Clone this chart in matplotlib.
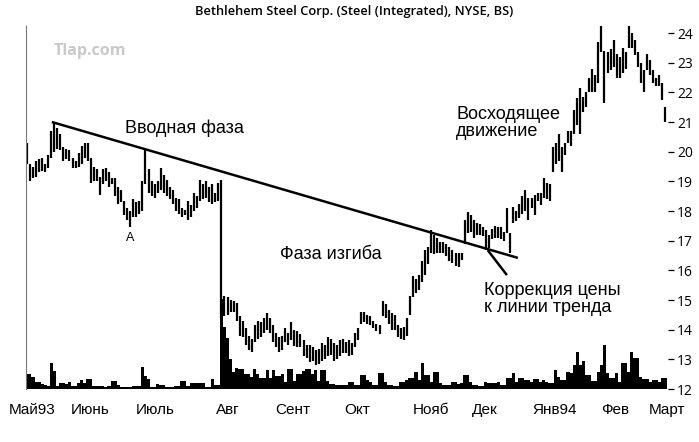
import numpy as np
import matplotlib
matplotlib.use("Agg")
import matplotlib.pyplot as plt

# daily high / low, May 1993 - early March 1994 (one entry per trading day)
highs = [20.3, 19.6, 19.5, 19.7, 19.75, 19.8, 19.6, 19.9, 20.7, 21.0,
         20.8, 20.6, 20.15, 20.1, 20.05, 19.8, 19.7, 19.95, 20.2, 20.3,
         20.3, 19.8, 19.5, 19.4, 19.15, 19.4, 19.45, 19.3, 19.1, 19.1,
         18.8, 18.7, 18.35, 18.1, 18.0, 18.4, 18.3, 18.35, 19.0, 20.05,
         19.4, 19.0, 18.9, 19.0, 19.45, 19.2, 19.05, 18.8, 18.7, 18.45,
         18.4, 18.1, 18.05, 18.35, 18.2, 18.6, 18.5, 19.05, 18.9, 19.0,
         18.8, 18.9, 18.6, 18.95, 19.05, 15.15, 15.1, 15.0, 14.95, 14.9,
         14.45, 14.3, 14.05, 13.8, 13.7, 14.15, 14.3, 14.25, 14.4, 14.55,
         14.4, 14.15, 13.9, 13.75, 13.8, 14.05, 13.9, 14.25, 14.0, 13.95,
         13.85, 13.65, 13.5, 13.5, 13.4, 13.3, 13.35, 13.55, 13.5, 13.75,
         13.7, 13.55, 13.5, 13.65, 13.7, 13.6, 13.65, 13.55, 13.9, 14.05,
         14.6, 14.6, 14.5, 14.45, 14.3, 14.2, 14.15, 14.95, 14.85, 14.65,
         14.55, 14.5, 14.15, 14.05, 14.1, 14.4, 15.15, 15.8, 15.7, 15.85,
         16.3, 16.7, 16.8, 17.35, 17.2, 17.1, 16.95, 16.95, 16.9, 16.8,
         16.7, 16.6, 16.6, 16.6, 17.7, 17.95, 17.85, 17.7, 17.6, 17.55,
         17.45, 17.35, 17.2, 17.4, 17.5, 17.45, 17.45, 17.3, 18.1, 17.25,
         18.15, 18.0, 18.25, 18.5, 18.7, 18.45, 18.45, 18.55, 18.6, 18.6,
         19.1, 18.95, 18.9, 20.15, 20.3, 20.6, 20.15, 20.3, 20.7, 20.7,
         21.4, 21.8, 22.15, 21.85, 22.0, 22.5, 22.8, 22.6, 23.7, 24.25,
         23.4, 23.35, 23.45, 23.75, 23.3, 23.2, 23.5, 23.35, 24.25, 24.0,
         23.75, 23.35, 23.0, 22.75, 23.3, 23.1, 22.75, 22.5, 22.6, 22.3,
         21.5]
lows = [19.6, 19.0, 19.1, 19.15, 19.3, 19.35, 19.3, 19.45, 19.8, 20.0,
        20.1, 20.05, 19.7, 19.75, 19.7, 19.45, 19.45, 19.5, 19.6, 19.8,
        19.7, 18.95, 19.0, 19.0, 18.55, 18.9, 19.0, 18.8, 18.9, 18.5,
        18.25, 18.3, 17.85, 17.7, 17.45, 17.8, 17.8, 17.9, 18.0, 18.9,
        18.6, 18.5, 18.45, 18.6, 18.7, 18.6, 18.5, 18.4, 18.25, 18.0,
        17.9, 17.8, 17.85, 17.7, 17.8, 18.0, 18.1, 18.35, 18.4, 18.45,
        18.3, 18.25, 18.3, 18.35, 14.4, 14.45, 14.5, 14.6, 14.6, 14.3,
        13.8, 13.75, 13.5, 13.3, 13.25, 13.6, 13.7, 13.75, 13.9, 14.0,
        13.9, 13.6, 13.4, 13.25, 13.3, 13.6, 13.5, 13.65, 13.45, 13.4,
        13.4, 13.1, 13.05, 12.9, 12.95, 12.8, 12.85, 12.95, 13.0, 13.1,
        13.15, 12.95, 13.0, 13.1, 13.2, 13.2, 13.1, 13.15, 13.4, 13.65,
        14.2, 14.25, 14.2, 14.15, 14.05, 13.95, 13.85, 14.45, 14.4, 14.2,
        14.0, 14.0, 13.75, 13.7, 13.65, 13.8, 14.5, 15.1, 15.25, 15.35,
        15.6, 15.85, 16.2, 16.6, 16.55, 16.6, 16.6, 16.6, 16.5, 16.3,
        16.25, 16.15, 16.1, 16.35, 16.9, 17.25, 17.3, 17.1, 17.2, 17.2,
        17.15, 16.7, 16.75, 17.05, 17.1, 17.1, 17.05, 17.0, 17.25, 16.6,
        17.6, 17.65, 17.75, 17.9, 18.0, 17.7, 18.1, 17.85, 18.35, 18.2,
        18.45, 18.4, 18.35, 19.3, 19.6, 19.7, 19.3, 19.9, 20.3, 20.2,
        20.6, 20.9, 20.6, 21.35, 21.5, 22.0, 22.0, 22.0, 22.3, 23.35,
        21.65, 22.65, 22.75, 22.85, 22.5, 22.5, 22.65, 22.8, 23.5, 23.5,
        23.25, 22.85, 22.3, 22.0, 22.75, 22.6, 22.3, 22.2, 22.2, 21.75,
        21.0]
# volume, in pixels of the original chart's volume panel
volume = [15, 15, 12, 7, 7, 5, 4, 3, 26, 18, 3, 6, 6, 5, 7, 3, 3, 6, 9, 6,
          10, 10, 3, 3, 3, 3, 2, 3, 8, 8, 4, 2, 2, 2, 2, 3, 3, 3, 22, 13,
          10, 2, 2, 5, 4, 4, 2, 2, 2, 3, 3, 8, 8, 3, 6, 6, 6, 6, 6, 2,
          2, 10, 4, 4, 90, 62, 51, 30, 17, 21, 20, 20, 15, 15, 12, 20, 15, 11, 11, 19,
          11, 19, 13, 13, 15, 7, 20, 20, 8, 15, 15, 18, 20, 20, 15, 19, 8, 19, 19, 8,
          5, 5, 4, 4, 4, 4, 7, 7, 4, 4, 14, 14, 9, 7, 4, 4, 16, 16, 7, 4,
          4, 3, 3, 7, 7, 9, 11, 11, 17, 9, 26, 14, 14, 7, 17, 17, 6, 4, 4, 4,
          7, 7, 5, 6, 14, 14, 7, 4, 4, 3, 3, 7, 6, 6, 6, 7, 4, 4, 11, 11,
          16, 7, 11, 11, 9, 9, 7, 10, 10, 7, 9, 7, 6, 6, 19, 12, 9, 9, 17, 16,
          24, 37, 24, 28, 14, 14, 8, 8, 17, 24, 44, 16, 11, 11, 16, 7, 26, 26, 17, 37,
          31, 31, 12, 10, 10, 7, 9, 9, 7, 11, 11]
vol_scale = 1 / 29.67  # volume pixels -> price units

# trend line and the pointer to the correction (day index, price)
trend_x = [8.2, 161.5]
trend_y = [21.0, 16.42]
pointer_x = [151.6, 157.9]
pointer_y = [16.68, 15.84]

month_labels = ["Май93", "Июнь", "Июль", "Авг", "Сент", "Окт", "Нояб",
                "Дек", "Янв94", "Фев", "Март"]
month_pos = [1.6, 20.7, 42.1, 66.1, 87.5, 108.6, 132.9, 150.7, 173.7, 193.4, 210.5]
price_ticks = list(range(12, 25))

days = np.arange(len(highs))

fig = plt.figure(figsize=(6.99, 4.42), dpi=100)
ax = fig.add_axes([26 / 699, 53 / 442, 642 / 699, 364 / 442])
ax.set_xlim(-0.3, 210.9)
ax.set_ylim(12, 24.27)

ax.bar(days, np.array(volume) * vol_scale, bottom=12, width=1.0,
       color="black", linewidth=0)
ax.vlines(days, lows, highs, color="black", linewidth=1.6)

ax.plot(trend_x, trend_y, color="black", linewidth=1.8, solid_capstyle="butt")
ax.plot(pointer_x, pointer_y, color="black", linewidth=1.8, solid_capstyle="butt")

txt = dict(family="Liberation Sans", color="black")
ax.text(32.3, 20.8, "Вводная фаза", fontsize=13, ha="left", va="center", **txt)
ax.text(83.3, 16.55, "Фаза изгиба", fontsize=13, ha="left", va="center", **txt)
ax.text(141.2, 20.97, "Восходящее\nдвижение", fontsize=13, ha="left",
        va="center", linespacing=0.98, **txt)
ax.text(150.3, 15.05, "Коррекция цены\nк линии тренда", fontsize=13, ha="left",
        va="center", linespacing=1.0, **txt)
ax.text(33.9, 17.1, "A", fontsize=9, ha="center", va="center", **txt)
ax.text(8.8, 23.4, "Tlap.com", fontsize=11.5, fontweight="bold", color="#c9c9c9",
        family="Open Sans", ha="left", va="center")

fig.text(354 / 699, 1 - 12 / 442, "Bethlehem Steel Corp. (Steel (Integrated), NYSE, BS)",
         fontsize=9.3, fontweight="semibold", family="Open Sans",
         ha="center", va="center")

for s in ["top", "right", "bottom"]:
    ax.spines[s].set_visible(False)
ax.spines["left"].set_color("#777777")
ax.spines["left"].set_linestyle((0, (1, 1)))
ax.spines["left"].set_linewidth(0.8)

ax.yaxis.tick_right()
ax.set_yticks(price_ticks)
ax.set_yticklabels([str(t) for t in price_ticks], family="Open Sans", fontsize=10)
ax.tick_params(axis="y", direction="out", length=4, width=0.9, pad=2.5)

ax.set_xticks(month_pos)
ax.set_xticklabels(month_labels, family="Liberation Sans", fontsize=11)
ax.tick_params(axis="x", length=0, pad=10)

fig.savefig("out.png", dpi=100)
